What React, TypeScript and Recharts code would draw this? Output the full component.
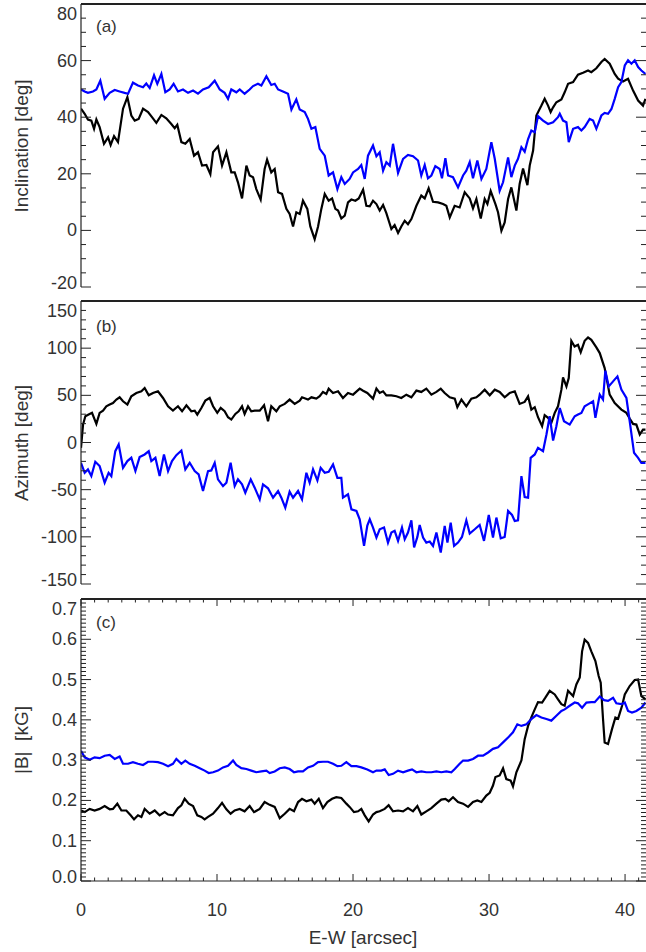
import React from 'react';
import { LineChart, Line, XAxis, YAxis, ReferenceLine } from 'recharts';

// (a) inclination [deg] — positions along E-W [arcsec] and values
const inclinationBlackX = [
  0.00, 0.27, 0.51, 0.76, 0.96, 1.13, 1.37, 1.69, 1.99, 2.18, 2.43, 2.72, 3.09, 3.41, 3.70, 3.95, 4.24, 4.56, 4.93, 5.22,
  5.54, 5.91, 6.27, 6.64, 6.89, 7.08, 7.38, 7.67, 7.99, 8.31, 8.60, 8.90, 9.22, 9.51, 9.71, 10.07, 10.37, 10.69, 11.05, 11.30,
  11.54, 11.84, 12.16, 12.40, 12.65, 12.89, 13.21, 13.50, 13.68, 13.99, 14.24, 14.49, 14.78, 15.10, 15.34, 15.59, 15.83, 16.08, 16.32, 16.64,
  16.86, 17.18, 17.43, 17.67, 17.92, 18.21, 18.46, 18.70, 18.90, 19.14, 19.39, 19.63, 19.88, 20.17, 20.42, 20.74, 20.98, 21.23, 21.47, 21.72,
  21.96, 22.21, 22.45, 22.82, 23.06, 23.31, 23.55, 23.80, 24.04, 24.29, 24.66, 25.02, 25.27, 25.56, 25.88, 26.25, 26.62, 26.86, 27.11, 27.47,
  27.84, 28.21, 28.58, 28.82, 29.07, 29.39, 29.68, 29.88, 30.12, 30.47, 30.66, 30.91, 31.15, 31.40, 31.64, 32.01, 32.25, 32.50, 32.82, 32.99,
  33.24, 33.48, 33.85, 34.09, 34.34, 34.53, 34.71, 34.95, 35.32, 35.56, 35.81, 36.18, 36.54, 36.91, 37.28, 37.52, 37.89, 38.26, 38.50, 38.87,
  39.24, 39.49, 39.85, 40.22, 40.59, 40.96, 41.32, 41.50,
];
const inclinationBlack = [
  43.0, 41.2, 39.2, 38.8, 35.9, 39.2, 36.5, 30.6, 32.9, 30.2, 33.3, 31.2, 43.0, 47.1, 40.6, 38.8, 39.4, 43.0, 41.8, 40.0,
  38.0, 40.8, 39.6, 37.6, 36.1, 37.3, 31.2, 30.6, 32.3, 26.4, 27.6, 22.9, 23.1, 19.9, 27.6, 29.7, 22.9, 27.6, 20.5, 20.5,
  17.0, 11.3, 22.9, 19.4, 18.8, 14.6, 10.9, 21.7, 25.0, 20.5, 21.7, 13.5, 12.9, 7.6, 5.8, 1.4, 6.4, 5.8, 10.5, 7.6,
  1.4, -3.1, 1.4, 7.6, 12.9, 10.5, 11.3, 7.6, 7.0, 4.2, 5.2, 9.9, 10.9, 10.5, 11.3, 14.4, 8.7, 8.5, 10.5, 9.3,
  7.0, 9.0, 6.1, 0.5, 1.9, -0.9, 1.4, 3.4, 2.2, 4.0, 8.7, 12.3, 11.3, 14.9, 10.1, 9.9, 9.3, 8.7, 4.6, 8.7,
  8.1, 13.5, 11.3, 7.8, 11.1, 4.2, 11.1, 9.3, 13.9, 9.3, 6.4, -0.1, 2.8, 11.1, 15.2, 7.0, 16.4, 21.9, 16.0, 22.9,
  28.2, 40.6, 44.1, 46.5, 44.1, 41.8, 43.5, 45.3, 46.3, 48.8, 51.8, 52.4, 55.0, 55.7, 56.5, 55.9, 57.3, 59.5, 60.6, 58.9,
  55.3, 53.6, 52.6, 53.6, 49.4, 45.9, 44.1, 46.5,
];
const inclinationBlueX = [
  0.00, 0.27, 0.51, 0.88, 1.13, 1.42, 1.74, 2.11, 2.48, 2.84, 3.21, 3.46, 3.82, 4.19, 4.56, 4.80, 5.05, 5.37, 5.61, 5.91,
  6.20, 6.52, 6.81, 7.13, 7.50, 7.87, 8.24, 8.60, 8.97, 9.39, 9.83, 10.20, 10.56, 10.81, 11.05, 11.42, 11.67, 12.03, 12.40, 12.65,
  13.01, 13.26, 13.63, 13.99, 14.24, 14.49, 14.85, 15.22, 15.47, 15.83, 16.08, 16.45, 16.69, 16.94, 17.23, 17.55, 17.92, 18.21, 18.53, 18.85,
  19.14, 19.39, 19.75, 20.00, 20.37, 20.61, 20.86, 21.10, 21.47, 21.72, 21.96, 22.21, 22.45, 22.70, 22.94, 23.31, 23.68, 24.04, 24.41, 24.78,
  25.02, 25.27, 25.51, 25.76, 26.05, 26.37, 26.54, 26.79, 26.99, 27.35, 27.72, 28.09, 28.33, 28.58, 28.82, 29.14, 29.44, 29.80, 30.17, 30.42,
  30.78, 31.03, 31.40, 31.64, 31.89, 32.13, 32.38, 32.62, 32.87, 33.11, 33.36, 33.60, 33.97, 34.34, 34.71, 35.07, 35.20, 35.44, 35.69, 35.86,
  36.18, 36.54, 36.79, 37.03, 37.40, 37.65, 37.89, 38.26, 38.50, 38.75, 39.00, 39.24, 39.49, 39.73, 39.98, 40.22, 40.47, 40.71, 40.96, 41.20,
  41.50,
];
const inclinationBlue = [
  49.8, 49.1, 48.6, 49.1, 49.8, 52.9, 46.5, 48.6, 49.6, 49.1, 48.6, 48.3, 52.2, 51.2, 50.6, 51.9, 50.3, 54.8, 51.8, 55.3,
  48.8, 49.8, 51.8, 49.1, 49.8, 48.6, 49.4, 48.3, 49.8, 50.6, 52.9, 49.8, 48.6, 46.5, 49.8, 48.8, 49.8, 48.3, 49.8, 51.0,
  51.8, 51.2, 54.5, 51.4, 51.8, 49.8, 49.1, 48.3, 42.7, 46.3, 42.7, 41.8, 39.4, 35.9, 36.5, 28.8, 26.4, 19.4, 20.5, 14.6,
  18.8, 16.4, 18.2, 20.5, 21.7, 23.1, 18.2, 26.4, 30.0, 26.2, 27.6, 21.1, 24.1, 22.9, 30.6, 20.3, 25.3, 26.7, 26.2, 24.7,
  19.4, 23.1, 18.4, 19.4, 22.7, 21.7, 18.4, 25.5, 19.4, 18.8, 15.2, 19.4, 21.1, 24.1, 18.4, 24.7, 18.2, 21.7, 31.2, 25.3,
  14.0, 17.0, 25.8, 18.8, 22.9, 25.3, 29.4, 27.8, 32.3, 35.3, 34.7, 40.4, 38.8, 37.6, 38.2, 40.0, 41.2, 38.8, 38.2, 31.2,
  35.9, 36.5, 35.3, 36.5, 39.4, 38.8, 35.9, 40.6, 41.5, 41.2, 42.9, 46.5, 50.6, 52.4, 58.3, 60.1, 58.9, 60.1, 57.7, 56.5,
  55.3,
];

// (b) azimuth [deg]
const azimuthBlackX = [
  0.00, 0.15, 0.32, 0.56, 0.81, 1.13, 1.37, 1.62, 1.86, 2.11, 2.35, 2.60, 2.84, 3.09, 3.41, 3.70, 4.07, 4.44, 4.68, 4.98,
  5.29, 5.66, 6.03, 6.40, 6.76, 7.13, 7.43, 7.75, 8.11, 8.36, 8.55, 8.85, 9.14, 9.46, 9.71, 10.02, 10.27, 10.56, 10.81, 11.05,
  11.35, 11.59, 11.84, 12.03, 12.28, 12.52, 12.77, 13.14, 13.46, 13.75, 13.99, 14.36, 14.61, 14.98, 15.34, 15.71, 16.08, 16.25, 16.69, 16.94,
  17.30, 17.55, 17.79, 18.04, 18.21, 18.53, 18.90, 19.26, 19.63, 20.00, 20.49, 20.74, 21.05, 21.47, 21.72, 21.96, 22.21, 22.45, 22.82, 23.19,
  23.55, 23.92, 24.29, 24.66, 25.02, 25.39, 25.76, 26.13, 26.45, 26.74, 27.11, 27.48, 27.67, 27.97, 28.33, 28.70, 29.07, 29.31, 29.68, 30.05,
  30.42, 30.78, 31.15, 31.52, 31.89, 32.25, 32.62, 32.87, 33.11, 33.36, 33.60, 33.90, 34.09, 34.34, 34.58, 34.83, 35.07, 35.32, 35.44, 35.69,
  35.86, 36.05, 36.29, 36.54, 36.74, 37.03, 37.28, 37.52, 37.89, 38.14, 38.50, 38.87, 39.24, 39.73, 40.10, 40.34, 40.59, 40.83, 41.08, 41.32,
  41.50,
];
const azimuthBlack = [
  -5.6, 19.0, 27.8, 29.6, 31.4, 19.7, 31.4, 33.8, 38.4, 40.2, 41.9, 45.5, 47.9, 43.7, 40.2, 49.0, 52.5, 54.3, 57.8, 50.0,
  52.5, 54.3, 47.2, 38.4, 33.8, 38.4, 33.1, 39.5, 33.1, 33.8, 29.6, 36.6, 44.4, 47.2, 38.4, 31.4, 36.6, 33.1, 26.8, 24.3,
  30.3, 33.1, 38.4, 30.3, 38.4, 33.1, 33.8, 33.8, 39.5, 22.6, 38.4, 33.1, 38.4, 40.9, 45.5, 40.9, 44.4, 47.9, 45.5, 47.9,
  46.5, 49.0, 53.6, 51.4, 57.1, 52.5, 54.3, 47.2, 52.5, 50.7, 57.1, 54.9, 52.5, 46.5, 57.1, 52.5, 54.3, 50.0, 50.0, 49.0,
  47.2, 50.7, 47.9, 55.0, 53.6, 57.1, 50.7, 53.6, 57.1, 52.5, 47.9, 46.5, 37.4, 45.5, 38.4, 46.5, 47.9, 50.7, 56.0, 50.0,
  56.0, 53.6, 47.9, 52.5, 54.3, 40.9, 43.0, 49.0, 34.9, 37.4, 26.8, 17.3, 28.9, 26.1, 20.8, 31.4, 38.4, 56.0, 69.1, 59.5,
  68.4, 107.8, 101.8, 103.6, 95.8, 107.8, 111.3, 108.9, 100.8, 94.8, 78.9, 50.7, 41.9, 34.9, 31.4, 25.4, 19.7, 19.0, 8.5, 13.7,
  13.7,
];
const azimuthBlueX = [
  0.00, 0.27, 0.51, 0.76, 1.05, 1.37, 1.74, 2.03, 2.23, 2.52, 2.77, 3.09, 3.41, 3.70, 4.00, 4.31, 4.68, 4.98, 5.17, 5.47,
  5.78, 6.10, 6.40, 6.69, 7.01, 7.38, 7.67, 7.99, 8.36, 8.65, 8.97, 9.34, 9.58, 9.83, 10.07, 10.44, 10.69, 11.00, 11.30, 11.54,
  11.84, 12.08, 12.48, 12.77, 13.14, 13.38, 13.75, 14.12, 14.49, 14.73, 15.02, 15.34, 15.59, 15.96, 16.25, 16.57, 16.81, 17.06, 17.38, 17.62,
  17.92, 18.21, 18.53, 18.85, 19.14, 19.26, 19.63, 19.88, 20.25, 20.49, 20.81, 21.05, 21.23, 21.47, 21.72, 21.96, 22.28, 22.57, 22.82, 23.06,
  23.31, 23.60, 23.80, 24.04, 24.29, 24.49, 24.73, 24.90, 25.15, 25.39, 25.64, 25.88, 26.13, 26.45, 26.74, 26.94, 27.18, 27.43, 27.72, 28.01,
  28.33, 28.58, 28.95, 29.31, 29.63, 29.98, 30.29, 30.54, 30.86, 31.15, 31.40, 31.69, 31.89, 32.13, 32.38, 32.62, 32.87, 33.06, 33.36, 33.60,
  33.97, 34.22, 34.46, 34.71, 34.95, 35.20, 35.51, 35.93, 36.30, 36.54, 36.79, 37.03, 37.33, 37.65, 37.82, 38.14, 38.38, 38.55, 38.80, 39.12,
  39.44, 39.73, 40.10, 40.34, 40.66, 40.96, 41.20, 41.50,
];
const azimuthBlue = [
  -21.5, -32.1, -28.5, -35.6, -20.4, -25.0, -42.6, -32.1, -35.6, -9.2, -2.1, -26.8, -19.7, -16.2, -30.3, -15.5, -12.7, -9.2, -19.7, -16.2,
  -35.6, -12.7, -30.3, -19.7, -13.4, -8.5, -28.5, -21.5, -30.3, -33.8, -51.4, -30.3, -29.6, -21.5, -39.1, -46.2, -42.6, -21.5, -46.2, -39.1,
  -44.4, -53.2, -39.1, -47.9, -60.3, -44.4, -48.6, -58.5, -51.4, -58.5, -69.1, -52.1, -58.5, -51.4, -60.3, -32.1, -42.6, -28.5, -40.2, -26.8,
  -32.1, -31.0, -23.3, -37.4, -37.4, -58.5, -55.0, -70.8, -72.6, -81.4, -109.6, -88.0, -81.4, -90.2, -100.8, -92.0, -90.2, -106.1, -95.5, -93.7,
  -104.3, -90.2, -102.5, -95.5, -82.5, -111.3, -100.1, -87.4, -100.8, -106.1, -105.0, -109.6, -95.5, -116.6, -88.4, -106.1, -84.9, -109.6, -106.1, -100.1,
  -82.5, -96.5, -92.0, -87.4, -104.3, -76.8, -100.8, -79.6, -101.5, -100.1, -72.6, -76.8, -83.2, -82.5, -35.6, -57.8, -58.5, -16.2, -12.7, -5.6,
  -9.2, 8.5, 27.8, 2.1, 17.3, 36.6, 22.6, 19.0, 27.8, 29.6, 31.4, 38.4, 40.9, 43.7, 26.1, 50.7, 45.5, 76.1, 59.5, 64.8,
  70.1, 56.0, 47.2, 22.6, -10.9, -16.2, -21.5, -21.5,
];

// (c) field strength |B| [kG]
const fieldBlackX = [
  0.00, 0.27, 0.64, 1.00, 1.37, 1.74, 2.11, 2.35, 2.67, 2.97, 3.33, 3.65, 3.90, 4.19, 4.44, 4.68, 5.05, 5.42, 5.78, 6.15,
  6.40, 6.76, 7.13, 7.38, 7.62, 7.92, 8.24, 8.55, 8.85, 9.09, 9.34, 9.71, 10.07, 10.37, 10.69, 11.00, 11.30, 11.67, 12.03, 12.40,
  12.72, 13.14, 13.50, 13.87, 14.24, 14.61, 14.98, 15.34, 15.66, 15.96, 16.25, 16.57, 16.94, 17.18, 17.48, 17.79, 18.11, 18.46, 18.77, 19.14,
  19.51, 19.75, 20.07, 20.37, 20.61, 20.86, 21.15, 21.47, 21.72, 21.96, 22.33, 22.62, 22.94, 23.31, 23.68, 24.04, 24.41, 24.73, 25.02, 25.39,
  25.76, 26.13, 26.49, 26.79, 27.03, 27.35, 27.72, 28.09, 28.46, 28.82, 29.14, 29.44, 29.80, 30.05, 30.29, 30.47, 30.78, 31.03, 31.27, 31.59,
  31.76, 32.01, 32.38, 32.62, 32.87, 33.11, 33.36, 33.60, 33.90, 34.14, 34.46, 34.83, 35.07, 35.32, 35.56, 35.81, 36.18, 36.42, 36.67, 36.84,
  37.03, 37.28, 37.52, 37.82, 38.06, 38.21, 38.38, 38.50, 38.75, 39.04, 39.29, 39.49, 39.78, 39.98, 40.34, 40.71, 40.96, 41.20, 41.50,
];
const fieldBlack = [
  0.175, 0.171, 0.179, 0.175, 0.179, 0.186, 0.178, 0.179, 0.192, 0.175, 0.175, 0.163, 0.153, 0.163, 0.159, 0.179, 0.167, 0.175, 0.163, 0.171,
  0.165, 0.163, 0.181, 0.188, 0.204, 0.192, 0.186, 0.163, 0.159, 0.153, 0.159, 0.167, 0.181, 0.194, 0.178, 0.167, 0.175, 0.179, 0.173, 0.186,
  0.171, 0.179, 0.196, 0.189, 0.184, 0.156, 0.167, 0.179, 0.173, 0.196, 0.204, 0.198, 0.202, 0.192, 0.204, 0.181, 0.196, 0.204, 0.208, 0.206,
  0.192, 0.184, 0.171, 0.173, 0.179, 0.163, 0.148, 0.165, 0.171, 0.173, 0.179, 0.188, 0.173, 0.175, 0.173, 0.181, 0.173, 0.186, 0.165, 0.173,
  0.181, 0.192, 0.202, 0.204, 0.198, 0.208, 0.196, 0.192, 0.184, 0.196, 0.200, 0.196, 0.212, 0.219, 0.237, 0.258, 0.262, 0.280, 0.253, 0.249,
  0.235, 0.270, 0.299, 0.352, 0.385, 0.406, 0.426, 0.444, 0.443, 0.455, 0.472, 0.463, 0.451, 0.439, 0.435, 0.472, 0.459, 0.488, 0.505, 0.570,
  0.599, 0.591, 0.570, 0.546, 0.509, 0.492, 0.402, 0.344, 0.340, 0.377, 0.406, 0.403, 0.435, 0.463, 0.484, 0.499, 0.500, 0.459, 0.451,
];
const fieldBlueX = [
  0.00, 0.27, 0.64, 1.00, 1.37, 1.74, 2.11, 2.48, 2.84, 3.09, 3.46, 3.82, 4.19, 4.56, 4.93, 5.29, 5.66, 6.03, 6.40, 6.76,
  7.01, 7.38, 7.67, 7.99, 8.36, 8.73, 9.09, 9.39, 9.71, 10.07, 10.44, 10.81, 11.18, 11.42, 11.79, 12.16, 12.52, 12.89, 13.26, 13.63,
  13.87, 14.24, 14.61, 14.98, 15.34, 15.66, 15.96, 16.32, 16.69, 17.06, 17.43, 17.79, 18.16, 18.53, 18.85, 19.14, 19.51, 19.88, 20.25, 20.61,
  21.05, 21.47, 21.72, 22.08, 22.33, 22.62, 22.94, 23.31, 23.68, 24.04, 24.34, 24.66, 25.02, 25.39, 25.76, 26.13, 26.49, 26.86, 27.23, 27.48,
  27.84, 28.09, 28.46, 28.82, 29.19, 29.56, 29.93, 30.29, 30.66, 31.03, 31.40, 31.76, 32.08, 32.38, 32.75, 33.11, 33.48, 33.85, 34.22, 34.58,
  34.95, 35.32, 35.56, 35.93, 36.30, 36.54, 36.84, 37.16, 37.52, 37.77, 38.14, 38.46, 38.75, 39.12, 39.36, 39.73, 39.98, 40.22, 40.51, 40.83,
  41.20, 41.50,
];
const fieldBlue = [
  0.323, 0.307, 0.301, 0.307, 0.305, 0.311, 0.313, 0.303, 0.309, 0.291, 0.291, 0.295, 0.291, 0.288, 0.296, 0.296, 0.295, 0.291, 0.285, 0.291,
  0.303, 0.291, 0.299, 0.291, 0.286, 0.280, 0.274, 0.268, 0.270, 0.274, 0.282, 0.286, 0.299, 0.288, 0.280, 0.278, 0.274, 0.270, 0.272, 0.274,
  0.268, 0.272, 0.280, 0.282, 0.278, 0.270, 0.272, 0.272, 0.282, 0.286, 0.295, 0.296, 0.296, 0.291, 0.285, 0.286, 0.295, 0.285, 0.285, 0.282,
  0.277, 0.270, 0.274, 0.274, 0.277, 0.263, 0.266, 0.274, 0.270, 0.274, 0.277, 0.270, 0.272, 0.270, 0.270, 0.272, 0.270, 0.272, 0.270, 0.278,
  0.291, 0.299, 0.299, 0.303, 0.311, 0.311, 0.319, 0.328, 0.332, 0.344, 0.356, 0.369, 0.389, 0.385, 0.389, 0.402, 0.412, 0.406, 0.402, 0.398,
  0.410, 0.422, 0.426, 0.435, 0.443, 0.441, 0.430, 0.443, 0.444, 0.444, 0.458, 0.449, 0.447, 0.455, 0.441, 0.439, 0.443, 0.422, 0.418, 0.422,
  0.430, 0.443,
];

// tick labels
const xMajorTicks = [0, 10, 20, 30, 40];
const inclinationMajor = [-20, 0, 20, 40, 60, 80];
const inclinationLabels = ['-20', '0', '20', '40', '60', '80'];
const azimuthMajor = [-150, -100, -50, 0, 50, 100, 150];
const azimuthLabels = ['-150', '-100', '-50', '0', '50', '100', '150'];
const fieldMajor = [0, 0.1, 0.2, 0.3, 0.4, 0.5, 0.6, 0.7];
const fieldLabels = ['0.0', '0.1', '0.2', '0.3', '0.4', '0.5', '0.6', '0.7'];

const minorTicks = (lo: number, hi: number, step: number, scale = 1) => {
  const out: number[] = [];
  for (let k = lo; k <= hi; k += step) out.push(k / scale);
  return out;
};

const xTicks = minorTicks(0, 41, 1);
const inclinationTicks = minorTicks(-20, 80, 5);
const azimuthTicks = minorTicks(-150, 150, 10);
const fieldTicks = minorTicks(0, 70, 1, 100);

const FONT = '"Liberation Sans", Arial, Helvetica, sans-serif';
const INK = '#222';
const TEXT = '#333';
const PLOT_W = 565;
const X_MAX = 41.54;

const toRows = (xs: number[], ys: number[]) => xs.map((x, i) => ({ x, v: ys[i] }));

const findMajor = (v: number, majors: number[]) => majors.findIndex((m) => Math.abs(m - v) < 1e-6);

const makeYTick = (majors: number[], labels: string[]) => (props: any) => {
  const { x, y, payload } = props;
  const idx = findMajor(payload.value, majors);
  const major = idx >= 0;
  const len = major ? 10 : 5;
  let dy = 0;
  if (idx === majors.length - 1) dy = 10;
  if (idx === 0) dy = -4;
  return (
    <g>
      <line x1={x} y1={y} x2={x + len} y2={y} stroke={INK} strokeWidth={1} />
      <line x1={x + PLOT_W} y1={y} x2={x + PLOT_W - len} y2={y} stroke={INK} strokeWidth={1} />
      {major && (
        <text x={x - 4} y={y + dy} textAnchor="end" dominantBaseline="central"
          fontFamily={FONT} fontSize={18} fill={TEXT}>
          {labels[idx]}
        </text>
      )}
    </g>
  );
};

const makeXTick = (plotH: number, showLabels: boolean) => (props: any) => {
  const { x, y, payload } = props;
  const major = findMajor(payload.value, xMajorTicks) >= 0;
  const len = major ? 7 : 3.5;
  return (
    <g>
      <line x1={x} y1={y} x2={x} y2={y - len} stroke={INK} strokeWidth={1} />
      <line x1={x} y1={y - plotH} x2={x} y2={y - plotH + len} stroke={INK} strokeWidth={1} />
      {major && showLabels && (
        <text x={x} y={y + 29} textAnchor="middle" dominantBaseline="central"
          fontFamily={FONT} fontSize={18} fill={TEXT}>
          {payload.value}
        </text>
      )}
    </g>
  );
};

type PanelProps = {
  black: { x: number; v: number }[];
  blue: { x: number; v: number }[];
  top: number;
  height: number;
  margin: { top: number; right: number; bottom: number; left: number };
  plotH: number;
  domain: [number, number];
  ticks: number[];
  majors: number[];
  labels: string[];
  xHeight: number;
  showX: boolean;
};

const Panel = ({ black, blue, top, height, margin, plotH, domain, ticks, majors, labels, xHeight, showX }: PanelProps) => (
  <div style={{ position: 'absolute', left: 0, top, width: 646, height }}>
    <LineChart width={646} height={height} margin={margin}>
      <XAxis type="number" dataKey="x" domain={[0, X_MAX]} ticks={xTicks} interval={0}
        tickSize={0} tickMargin={0} height={xHeight} tickLine={false}
        axisLine={{ stroke: INK, strokeWidth: 1.2 }} tick={makeXTick(plotH, showX)} allowDataOverflow />
      <YAxis type="number" domain={domain} ticks={ticks} interval={0} width={81}
        tickSize={0} tickMargin={0} tickLine={false}
        axisLine={{ stroke: INK, strokeWidth: 1.2 }} tick={makeYTick(majors, labels)} allowDataOverflow />
      <ReferenceLine y={domain[1]} stroke={INK} strokeWidth={2} />
      <Line data={black} type="linear" dataKey="v" stroke="#000000" strokeWidth={2.2} dot={false} isAnimationActive={false} />
      <Line data={blue} type="linear" dataKey="v" stroke="#0000ff" strokeWidth={2.2} dot={false} isAnimationActive={false} />
    </LineChart>
  </div>
);

const YTitle = ({ text, cy }: { text: string; cy: number }) => (
  <div style={{
    position: 'absolute', left: 22 - 150, top: cy - 12, width: 300, height: 24, lineHeight: '24px',
    textAlign: 'center', transform: 'rotate(-90deg)', fontFamily: FONT, fontSize: 19, color: TEXT,
    whiteSpace: 'pre',
  }}>{text}</div>
);

const PanelTag = ({ text, cy }: { text: string; cy: number }) => (
  <div style={{
    position: 'absolute', left: 96, top: cy - 11, height: 22, lineHeight: '22px',
    fontFamily: FONT, fontSize: 17, color: TEXT,
  }}>{text}</div>
);

export default function App() {
  return (
    <div style={{ position: 'absolute', left: 0, top: 0, width: 646, height: 952, background: '#fff', overflow: 'hidden' }}>
      <Panel black={toRows(inclinationBlackX, inclinationBlack)} blue={toRows(inclinationBlueX, inclinationBlue)}
        top={0} height={298} margin={{ top: 4, right: 0, bottom: 11, left: 0 }} plotH={283}
        domain={[-20, 80]} ticks={inclinationTicks} majors={inclinationMajor} labels={inclinationLabels}
        xHeight={0} showX={false} />
      <Panel black={toRows(azimuthBlackX, azimuthBlack)} blue={toRows(azimuthBlueX, azimuthBlue)}
        top={290} height={304} margin={{ top: 11, right: 0, bottom: 10, left: 0 }} plotH={283}
        domain={[-150, 150]} ticks={azimuthTicks} majors={azimuthMajor} labels={azimuthLabels}
        xHeight={0} showX={false} />
      <Panel black={toRows(fieldBlackX, fieldBlack)} blue={toRows(fieldBlueX, fieldBlue)}
        top={590} height={362} margin={{ top: 9, right: 0, bottom: 1, left: 0 }} plotH={282}
        domain={[0, 0.7]} ticks={fieldTicks} majors={fieldMajor} labels={fieldLabels}
        xHeight={70} showX={true} />
      <YTitle text="Inclination [deg]" cy={146} />
      <YTitle text="Azimuth [deg]" cy={443} />
      <YTitle text="|B|  [kG]" cy={740} />
      <PanelTag text="(a)" cy={27} />
      <PanelTag text="(b)" cy={327} />
      <PanelTag text="(c)" cy={623} />
      <div style={{
        position: 'absolute', left: 0, width: 726, top: 926, height: 24, lineHeight: '24px', textAlign: 'center',
        fontFamily: FONT, fontSize: 19, color: TEXT,
      }}>E-W [arcsec]</div>
    </div>
  );
}
